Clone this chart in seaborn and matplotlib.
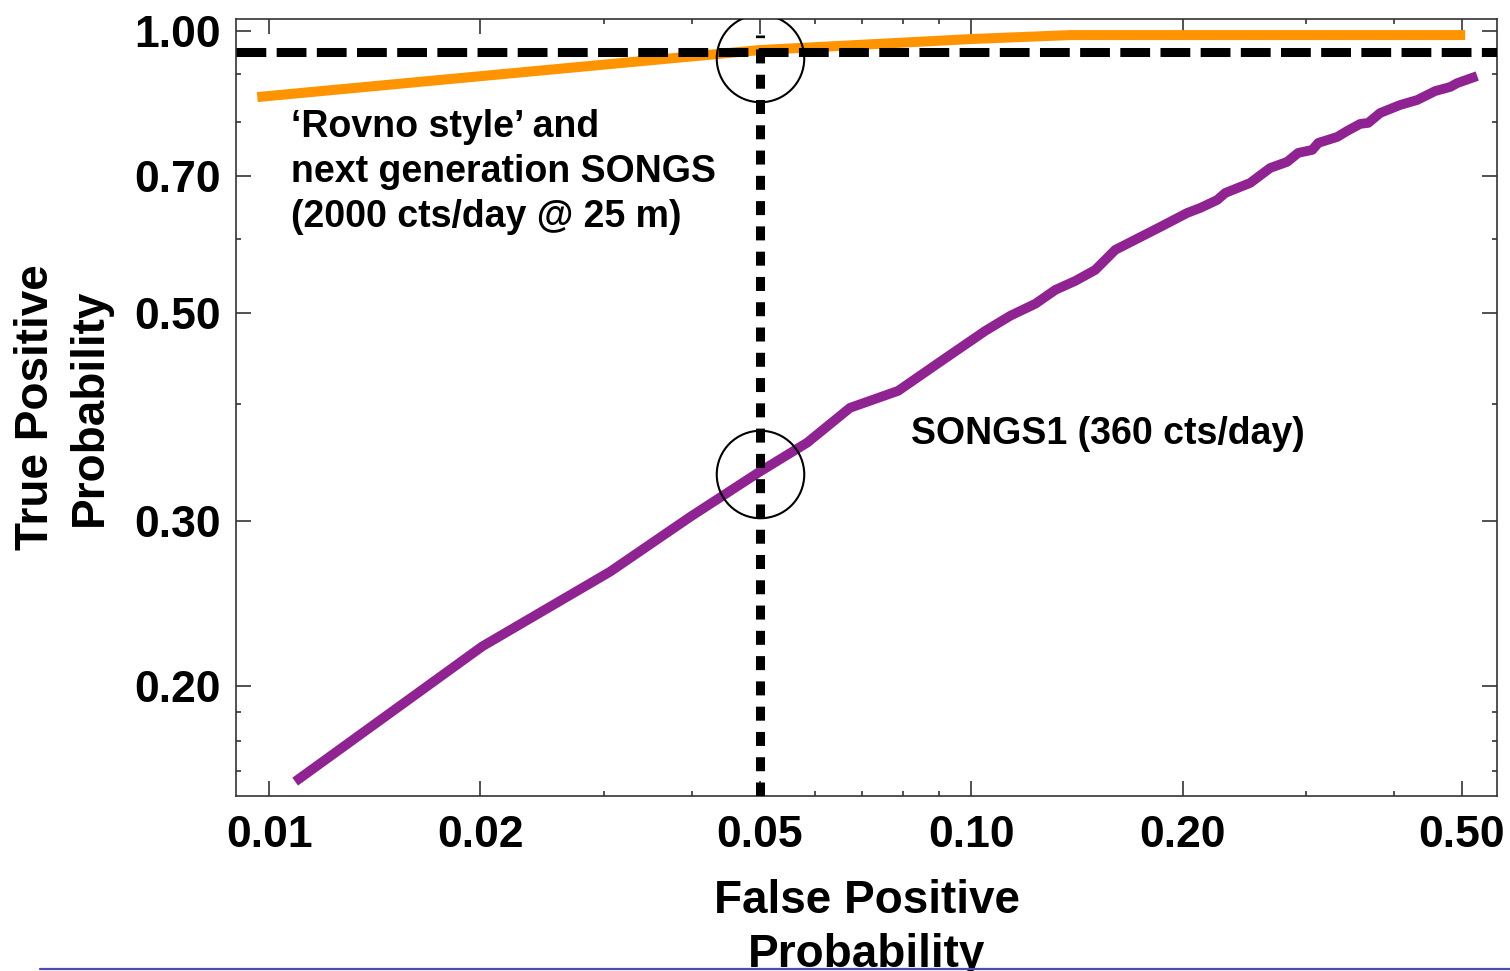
import numpy as np
import pandas as pd
import matplotlib
matplotlib.use("Agg")
import matplotlib.pyplot as plt
from matplotlib.lines import Line2D
from matplotlib.ticker import FixedLocator, FixedFormatter, NullFormatter
import seaborn as sns

# ---------------- data ----------------
songs1_fp = [0.01089, 0.02011, 0.0306, 0.0398, 0.0500, 0.0584, 0.0672, 0.0787, 0.0903,
             0.1047, 0.1137, 0.1234, 0.1318, 0.1407, 0.1502, 0.1604, 0.1859, 0.2031,
             0.2120, 0.2241, 0.2301, 0.2497, 0.2666, 0.2818, 0.2923, 0.3061, 0.3122,
             0.3322, 0.3432, 0.3582, 0.3677, 0.3824, 0.4084, 0.4318, 0.4581, 0.4812,
             0.4924, 0.5258]
songs1_tp = [0.1582, 0.2205, 0.2650, 0.3032, 0.3388, 0.3638, 0.3963, 0.4132, 0.4437,
             0.4787, 0.4969, 0.5117, 0.5295, 0.5413, 0.5561, 0.5842, 0.6180, 0.6397,
             0.6476, 0.6604, 0.6719, 0.6886, 0.7144, 0.7251, 0.7414, 0.7468, 0.7598,
             0.7710, 0.7824, 0.7961, 0.7980, 0.8177, 0.8340, 0.8442, 0.8630, 0.8717,
             0.8800, 0.8954]

rovno_fp = [0.00962, 0.0201, 0.0500, 0.1000, 0.1384, 0.5054]
rovno_tp = [0.8503, 0.8954, 0.9544, 0.9806, 0.9902, 0.9902]

fp_threshold = 0.05
tp_threshold = 0.95
circle_tp = [0.936, 0.337]

x_major = [0.01, 0.02, 0.05, 0.10, 0.20, 0.50]
x_major_labels = ["0.01", "0.02", "0.05", "0.10", "0.20", "0.50"]
x_minor = [0.03, 0.04, 0.06, 0.07, 0.08, 0.09, 0.3, 0.4]
y_major = [0.20, 0.30, 0.50, 0.70, 1.00]
y_major_labels = ["0.20", "0.30", "0.50", "0.70", "1.00"]
y_minor = [0.1625, 0.175, 0.1875, 0.4, 0.6, 0.8, 0.9]

label_rovno = "\u2018Rovno style\u2019 and\nnext generation SONGS\n(2000 cts/day @ 25 m)"
label_songs1 = "SONGS1 (360 cts/day)"

# ---------------- style ----------------
sns.set_theme(style="ticks")
plt.rcParams["font.family"] = ["Liberation Sans", "DejaVu Sans"]
plt.rcParams["font.weight"] = "bold"
plt.rcParams["text.color"] = "black"

ORANGE = "#FF9300"
PURPLE = "#8F2391"

fig = plt.figure(figsize=(15.10, 9.71), dpi=100)
ax = fig.add_axes([0.1563, 0.1802, 0.9914 - 0.1563, 0.9804 - 0.1802])

df_s = pd.DataFrame({"fp": songs1_fp, "tp": songs1_tp})
df_r = pd.DataFrame({"fp": rovno_fp, "tp": rovno_tp})

sns.lineplot(data=df_r, x="fp", y="tp", ax=ax, color=ORANGE, lw=7.2,
             sort=False, estimator=None, solid_capstyle="butt")
sns.lineplot(data=df_s, x="fp", y="tp", ax=ax, color=PURPLE, lw=7.0,
             sort=False, estimator=None, solid_capstyle="butt")

ax.set_xscale("log")
ax.set_yscale("log")
ax.set_xlim(0.00897, 0.561)
ax.set_ylim(0.1527, 1.030)

# threshold lines
ax.axhline(tp_threshold, color="black", lw=6.5, dashes=(3.3, 1.15), zorder=4)
ax.plot([fp_threshold, fp_threshold], [ax.get_ylim()[0], 0.99], color="black",
        lw=6.5, dashes=(1.55, 1.25), zorder=4)

# circles
ax.plot([fp_threshold] * len(circle_tp), circle_tp, linestyle="none", marker="o",
        markersize=63, markerfacecolor="none", markeredgecolor="black",
        markeredgewidth=1.5, zorder=5)

# annotations
ax.text(0.01075, 0.708, label_rovno, fontsize=27, fontweight="bold", color="black",
        ha="left", va="center", linespacing=1.32)
ax.text(0.0821, 0.3715, label_songs1, fontsize=27, fontweight="bold", color="black",
        ha="left", va="center")

# ticks
ax.xaxis.set_major_locator(FixedLocator(x_major))
ax.xaxis.set_major_formatter(FixedFormatter(x_major_labels))
ax.xaxis.set_minor_locator(FixedLocator(x_minor))
ax.xaxis.set_minor_formatter(NullFormatter())
ax.yaxis.set_major_locator(FixedLocator(y_major))
ax.yaxis.set_major_formatter(FixedFormatter(y_major_labels))
ax.yaxis.set_minor_locator(FixedLocator(y_minor))
ax.yaxis.set_minor_formatter(NullFormatter())

ax.tick_params(which="both", direction="in", top=True, right=True, colors="#222222")
ax.tick_params(which="major", length=11, width=1.1)
ax.tick_params(which="minor", length=3.8, width=1.1)
ax.tick_params(axis="x", which="major", pad=14, labelsize=32, labelcolor="black")
ax.tick_params(axis="y", which="major", pad=11, labelsize=32, labelcolor="black")
for lab in ax.get_xticklabels() + ax.get_yticklabels():
    lab.set_fontweight("bold")

for sp in ax.spines.values():
    sp.set_visible(True)
    sp.set_linewidth(1.2)
    sp.set_color("#333333")

ax.set_xlabel("False Positive\nProbability", fontsize=33, fontweight="bold",
              labelpad=16, linespacing=1.3, color="black")
ax.set_ylabel("True Positive\nProbability", fontsize=33, fontweight="bold",
              labelpad=16, linespacing=1.3, color="black")

ax.grid(False)
ax.set_facecolor("white")
fig.patch.set_facecolor("white")

# slide separator line at the bottom
fig.add_artist(Line2D([0.0265, 1.0], [0.0018, 0.0018], transform=fig.transFigure,
                      color="#4b4bb0", lw=1.6))

fig.savefig("out.png", dpi=100)
